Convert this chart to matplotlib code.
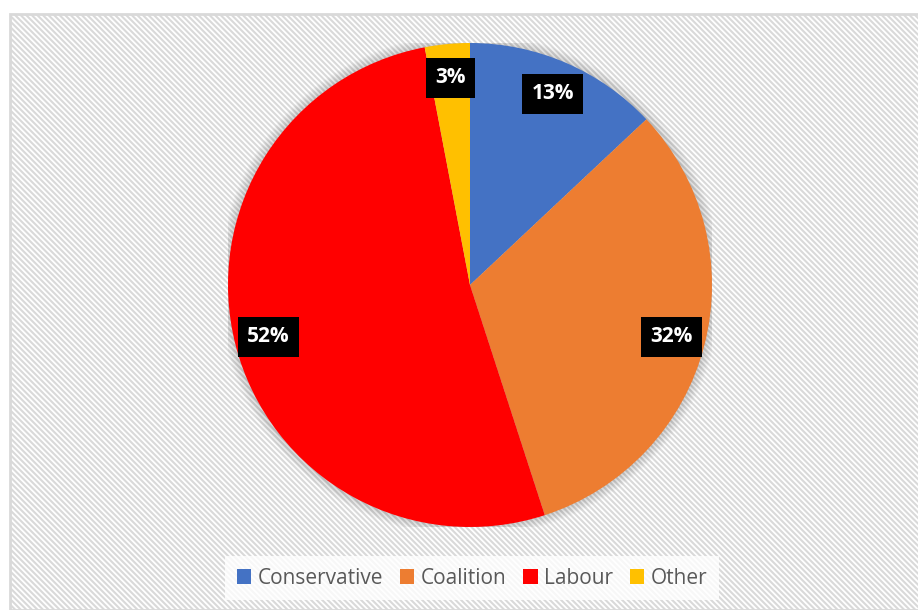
import matplotlib.pyplot as plt
from matplotlib.patches import Rectangle, Circle, Patch

# data
parties = ['Conservative', 'Coalition', 'Labour', 'Other']
shares = [13, 32, 52, 3]
colors = ['#4472C4', '#ED7D31', '#FF0000', '#FFC000']

W, H = 918, 610
fig = plt.figure(figsize=(W / 100, H / 100), dpi=100)
fig.patch.set_facecolor('white')

# chart area with light diagonal stripes
plt.rcParams['hatch.color'] = '#f3f3f3'
plt.rcParams['hatch.linewidth'] = 1.5
bg = Rectangle((10 / W, 0), 1, 1 - 14 / H, transform=fig.transFigure,
               facecolor='white', edgecolor='#d9d9d9', hatch='\\\\\\\\\\\\',
               linewidth=2, zorder=-5)
fig.patches.append(bg)

# pie axes: center (470, 285) px, radius 242 px
cx, cy, r = 470, 285, 242
ax = fig.add_axes([(cx - r) / W, (H - cy - r) / H, 2 * r / W, 2 * r / H], zorder=2)

# soft shadow around pie
for i in range(8):
    ax.add_patch(Circle((0, 0), 1 + 0.005 * (i + 1), facecolor='black',
                        alpha=0.02, edgecolor='none', zorder=0))

wedges, texts, autotexts = ax.pie(
    shares, colors=colors, startangle=90, counterclock=False, radius=1,
    autopct='%1.0f%%', pctdistance=0.86,
    wedgeprops=dict(linewidth=0), textprops=dict(zorder=5))
for t in autotexts:
    t.set_color('white')
    t.set_fontweight('bold')
    t.set_fontsize(15)
    t.set_fontfamily('Open Sans')
    t.set_bbox(dict(facecolor='black', edgecolor='none', boxstyle='square,pad=0.45'))

ax.set_xlim(-1, 1)
ax.set_ylim(-1, 1)
ax.set_aspect('equal')
ax.axis('off')

# legend
handles = [Patch(facecolor=c, edgecolor='none') for c in colors]
leg = fig.legend(handles, parties, loc='center', bbox_to_anchor=(472 / W, 1 - 578 / H),
                 ncol=4, frameon=True, fancybox=False, handlelength=0.7, handleheight=0.7,
                 handletextpad=0.3, columnspacing=0.8,
                 prop={'family': 'Open Sans', 'size': 15}, borderpad=0.55)
leg.get_frame().set_facecolor('white')
leg.get_frame().set_edgecolor('none')
leg.get_frame().set_alpha(0.8)
leg.set_zorder(3)
for t in leg.get_texts():
    t.set_color('#595959')

fig.savefig('out.png', dpi=100)
